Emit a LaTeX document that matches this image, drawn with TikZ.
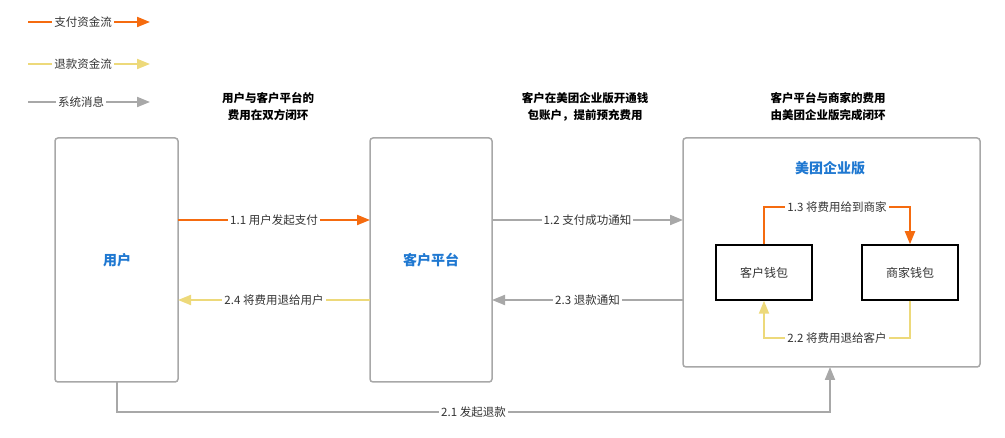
\documentclass[tikz,border=0pt]{standalone}
\usepackage{fontspec}
\setmainfont{Noto Sans CJK SC}
\usetikzlibrary{arrows.meta}
\definecolor{org}{HTML}{F56B0F}
\definecolor{yel}{HTML}{EDD97A}
\definecolor{gry}{HTML}{A8A8A8}
\definecolor{blu}{HTML}{1F78D1}
\definecolor{txt}{HTML}{333333}
\begin{document}
\begin{tikzpicture}[x=1pt,y=-1pt,
 fl/.style={line width=2pt,-{Triangle[length=13pt,width=10pt]}},
 lab/.style={fill=white,text=txt,inner sep=2pt,font=\fontsize{11.5}{13}\selectfont},
 big/.style={draw=gry,line width=1.5pt,rounded corners=3pt},
 wal/.style={draw=black,line width=1.5pt,inner sep=0pt,minimum width=96pt,minimum height=55pt,text=txt,font=\fontsize{12}{14}\selectfont},
 note/.style={align=center,text=black,font=\bfseries\fontsize{11.5}{17}\selectfont},
 ttl/.style={text=blu,font=\bfseries\fontsize{14}{16}\selectfont}]
\useasboundingbox (0,0) rectangle (1005,438);
% legend
\coordinate (l1a) at (28,22); \coordinate (l1b) at (150,22);
\coordinate (l2a) at (28,64); \coordinate (l2b) at (150,64);
\coordinate (l3a) at (28,102); \coordinate (l3b) at (150,102);
\draw[fl,org] (l1a) -- (l1b) node[lab,midway,xshift=-6pt] (t1) {支付资金流};
\draw[fl,yel] (l2a) -- (l2b) node[lab,midway,xshift=-6pt] (t2) {退款资金流};
\draw[fl,gry] (l3a) -- (l3b) node[lab,midway,xshift=-8pt] (t3) {系统消息};
% notes
\node[note] (n1) at (268,107) {用户与客户平台的\\费用在双方闭环};
\node[note] (n2) at (585,107) {客户在美团企业版开通钱\\包账户，提前预充费用};
\node[note] (n3) at (828,107) {客户平台与商家的费用\\由美团企业版完成闭环};
% boxes
\draw[big] (55,138) rectangle (178,382);
\node[ttl] (u) at (117,260) {用户};
\draw[big] (370,138) rectangle (492,382);
\node[ttl] (p) at (431,260) {客户平台};
\draw[big] (683,138) rectangle (980,367);
\node[ttl] (m) at (830,168) {美团企业版};
\node[wal] (cw) at (764,272.5) {客户钱包};
\node[wal] (sw) at (910,272.5) {商家钱包};
% arrows
\draw[fl,org] (178,220) -- (370,220) node[lab,midway] (a11) {1.1 用户发起支付};
\draw[fl,gry] (492,220) -- (683,220) node[lab,midway] (a12) {1.2 支付成功通知};
\draw[fl,yel] (370,300) -- (178,300) node[lab,midway] (a24) {2.4 将费用退给用户};
\draw[fl,gry] (683,300) -- (492,300) node[lab,midway] (a23) {2.3 退款通知};
\draw[fl,org] (cw.north) -- ++(0,-37) -| (sw.north) node[lab,pos=0.25] (a13) {1.3 将费用给到商家};
\draw[fl,yel] (sw.south) -- ++(0,37) -| (cw.south) node[lab,pos=0.25] (a22) {2.2 将费用退给客户};
\draw[fl,gry] (117,382) -- (117,412) -- (830,412) node[lab,midway] (a21) {2.1 发起退款} -- (830,367);
\end{tikzpicture}
\end{document}
